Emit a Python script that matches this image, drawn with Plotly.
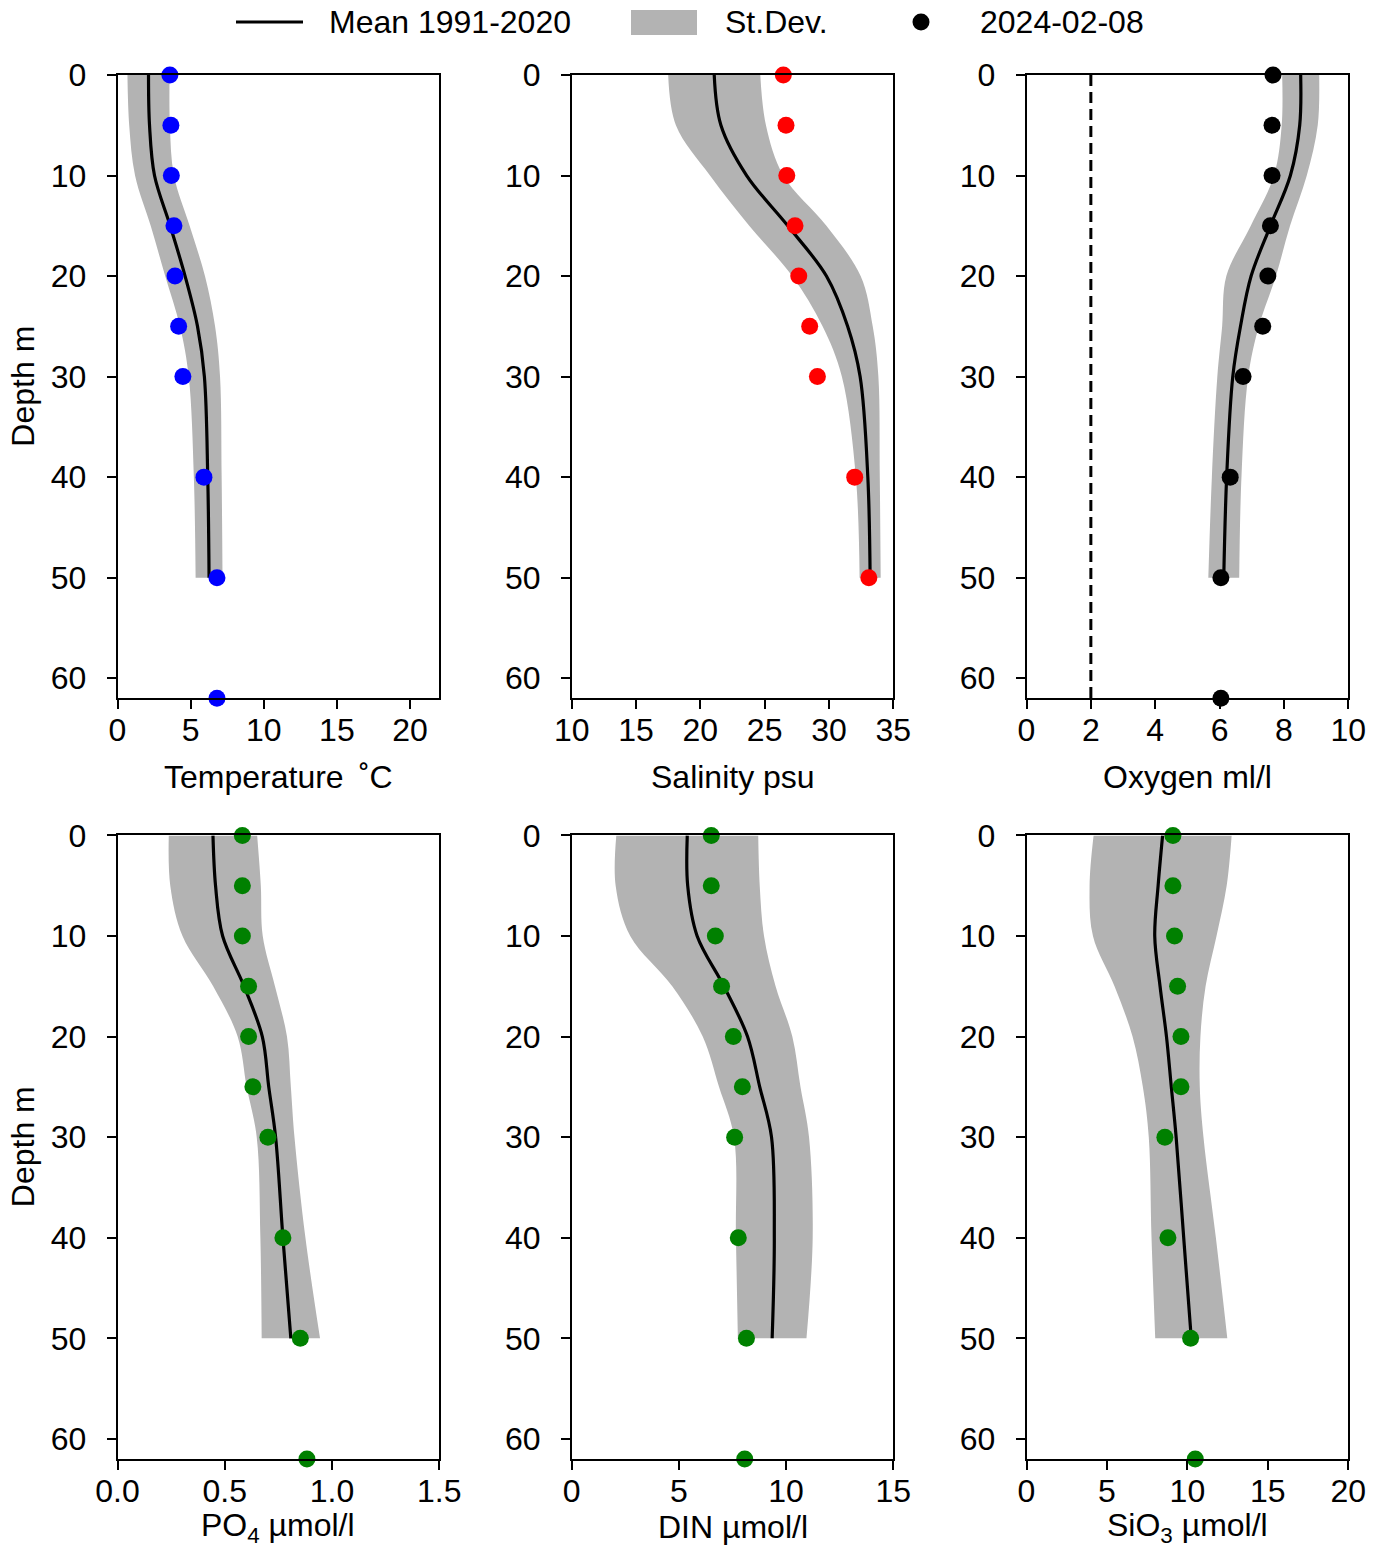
import plotly.graph_objects as go

# ---------------- data ----------------
depth_clim = [0, 5, 10, 15, 20, 25, 30, 40, 50]
depth_obs = [0, 5, 10, 15, 20, 25, 30, 40, 50, 62]

temp_mean = [2.12, 2.19, 2.53, 3.6, 4.62, 5.47, 5.94, 6.17, 6.26]
temp_sd = [1.44, 1.39, 1.33, 1.33, 1.36, 1.2, 1.07, 0.95, 0.92]
temp_obs = [3.58, 3.65, 3.68, 3.86, 3.93, 4.18, 4.47, 5.91, 6.80, 6.80]

sal_mean = [21.08, 21.6, 23.6, 26.8, 29.8, 31.45, 32.42, 33.02, 33.2]
sal_sd = [3.58, 3.5, 2.85, 3.0, 2.66, 1.95, 1.42, 0.93, 0.82]
sal_obs = [26.45, 26.66, 26.72, 27.36, 27.65, 28.5, 29.1, 32.0, 33.1]

oxy_mean = [8.52, 8.49, 8.2, 7.58, 6.98, 6.65, 6.41, 6.22, 6.13]
oxy_sd = [0.575, 0.56, 0.51, 0.61, 0.77, 0.57, 0.48, 0.46, 0.48]
oxy_obs = [7.66, 7.63, 7.63, 7.58, 7.50, 7.34, 6.73, 6.33, 6.04, 6.04]
oxy_limit = 2.0

po4_mean = [0.445, 0.457, 0.49, 0.59, 0.675, 0.705, 0.737, 0.771, 0.808]
po4_sd = [0.206, 0.211, 0.187, 0.144, 0.115, 0.103, 0.088, 0.105, 0.136]
po4_obs = [0.582, 0.582, 0.582, 0.611, 0.611, 0.631, 0.701, 0.771, 0.852, 0.883]

din_mean = [5.39, 5.41, 5.85, 7.1, 8.2, 8.77, 9.32, 9.45, 9.35]
din_sd = [3.31, 3.36, 3.12, 2.41, 2.09, 1.9, 1.75, 1.79, 1.6]
din_obs = [6.51, 6.51, 6.70, 6.99, 7.54, 7.96, 7.60, 7.77, 8.15, 8.07]

sio3_mean = [8.46, 8.18, 7.97, 8.3, 8.7, 9.0, 9.3, 9.77, 10.24]
sio3_sd = [4.29, 4.26, 3.84, 2.83, 2.11, 1.77, 1.7, 2.0, 2.24]
sio3_obs = [9.10, 9.10, 9.20, 9.39, 9.60, 9.60, 8.60, 8.79, 10.20, 10.49]

depth_ticks = [0, 10, 20, 30, 40, 50, 60]

legend_labels = ["Mean 1991-2020", "St.Dev.", "2024-02-08"]

panels = [
    dict(mean=temp_mean, sd=temp_sd, obs=temp_obs, color="#0000ff",
         title="Temperature \u2009\u02daC", xr=[0, 22], ticks=[0, 5, 10, 15, 20], fmt=""),
    dict(mean=sal_mean, sd=sal_sd, obs=sal_obs, color="#ff0000",
         title="Salinity psu", xr=[10, 35], ticks=[10, 15, 20, 25, 30, 35], fmt=""),
    dict(mean=oxy_mean, sd=oxy_sd, obs=oxy_obs, color="#000000",
         title="Oxygen ml/l", xr=[0, 10], ticks=[0, 2, 4, 6, 8, 10], fmt=""),
    dict(mean=po4_mean, sd=po4_sd, obs=po4_obs, color="#008000",
         title="PO<sub>4</sub> \u00b5mol/l", xr=[0, 1.5], ticks=[0, 0.5, 1.0, 1.5], fmt=".1f"),
    dict(mean=din_mean, sd=din_sd, obs=din_obs, color="#008000",
         title="DIN \u00b5mol/l", xr=[0, 15], ticks=[0, 5, 10, 15], fmt=""),
    dict(mean=sio3_mean, sd=sio3_sd, obs=sio3_obs, color="#008000",
         title="SiO<sub>3</sub> \u00b5mol/l", xr=[0, 20], ticks=[0, 5, 10, 15, 20], fmt=""),
]

# ---------------- layout geometry (pixels) ----------------
W, H = 1381, 1551
FONT = "Liberation Sans, Arial, Helvetica, sans-serif"
FS = 32
BAND = "#b3b3b3"
col_px = [(117.5, 439.3), (571.7, 893.3), (1026.5, 1348.3)]
row_px = [(75.0, 698.3), (835.4, 1459.0)]
xtitle_y = [777, 1527]
ytitle_x = 23

fig = go.Figure()
layout = dict(template="none", width=W, height=H, autosize=False,
              margin=dict(l=0, r=0, t=0, b=0, pad=0),
              paper_bgcolor="white", plot_bgcolor="white",
              showlegend=False, font=dict(family=FONT, size=FS, color="black"))
annotations = []
shapes = []

for i, p in enumerate(panels):
    r, c = divmod(i, 3)
    n = i + 1
    xa = "x" if n == 1 else f"x{n}"
    ya = "y" if n == 1 else f"y{n}"
    lo = [m - s for m, s in zip(p["mean"], p["sd"])]
    hi = [m + s for m, s in zip(p["mean"], p["sd"])]
    fig.add_trace(go.Scatter(x=lo, y=depth_clim, mode="lines", xaxis=xa, yaxis=ya,
                             line=dict(width=0, shape="spline", color=BAND),
                             hoverinfo="skip"))
    fig.add_trace(go.Scatter(x=hi, y=depth_clim, mode="lines", xaxis=xa, yaxis=ya,
                             line=dict(width=0, shape="spline", color=BAND),
                             fill="tonextx", fillcolor=BAND, hoverinfo="skip"))
    if i == 2:
        fig.add_trace(go.Scatter(x=[oxy_limit, oxy_limit], y=[0, 62], mode="lines",
                                 xaxis=xa, yaxis=ya,
                                 line=dict(width=3, color="black", dash="11px,6px")))
    fig.add_trace(go.Scatter(x=p["mean"], y=depth_clim, mode="lines", xaxis=xa, yaxis=ya,
                             line=dict(width=3.2, shape="spline", color="black")))
    d_obs = depth_obs[:len(p["obs"])]
    fig.add_trace(go.Scatter(x=p["obs"], y=d_obs, mode="markers", xaxis=xa, yaxis=ya,
                             cliponaxis=False,
                             marker=dict(size=17, color=p["color"], line=dict(width=0))))

    x0, x1 = col_px[c]
    y0, y1 = row_px[r]
    axcommon = dict(showline=True, mirror=True, linecolor="black", linewidth=1.5,
                    ticks="outside", ticklen=9, tickwidth=1.5, tickcolor="black",
                    showgrid=False, zeroline=False, automargin=False,
                    tickfont=dict(family=FONT, size=FS, color="black"))
    layout["xaxis" if n == 1 else f"xaxis{n}"] = dict(
        domain=[x0 / W, x1 / W], anchor=ya, range=p["xr"], tickvals=p["ticks"],
        tickformat=p["fmt"], ticklabelstandoff=-6, **axcommon)
    layout["yaxis" if n == 1 else f"yaxis{n}"] = dict(
        domain=[1 - y1 / H, 1 - y0 / H], anchor=xa, range=[62, 0], tickvals=depth_ticks,
        ticklabelstandoff=14, **axcommon)
    annotations.append(dict(text=p["title"], xref="paper", yref="paper",
                            x=(x0 + x1) / 2 / W, y=1 - xtitle_y[r] / H,
                            xanchor="center", yanchor="middle", showarrow=False,
                            font=dict(family=FONT, size=FS, color="black")))
    if c == 0:
        annotations.append(dict(text="Depth m", xref="paper", yref="paper",
                                x=ytitle_x / W, y=1 - (y0 + y1) / 2 / H, textangle=-90,
                                xanchor="center", yanchor="middle", showarrow=False,
                                font=dict(family=FONT, size=FS, color="black")))

# ---------------- legend (drawn at top) ----------------
LY = 22
shapes.append(dict(type="line", xref="paper", yref="paper",
                   x0=236 / W, x1=303 / W, y0=1 - LY / H, y1=1 - LY / H,
                   line=dict(color="black", width=3.2)))
shapes.append(dict(type="rect", xref="paper", yref="paper",
                   x0=631 / W, x1=697 / W, y0=1 - 35 / H, y1=1 - 10 / H,
                   fillcolor=BAND, line=dict(width=0)))
shapes.append(dict(type="circle", xref="paper", yref="paper",
                   x0=912.5 / W, x1=929.5 / W, y0=1 - (LY + 8.5) / H, y1=1 - (LY - 8.5) / H,
                   fillcolor="black", line=dict(width=0)))
for txt, lx in zip(legend_labels, [327, 723, 978]):
    annotations.append(dict(text=txt, xref="paper", yref="paper", x=lx / W, y=1 - LY / H,
                            xanchor="left", yanchor="middle", showarrow=False,
                            font=dict(family=FONT, size=FS, color="black")))

layout["annotations"] = annotations
layout["shapes"] = shapes
fig.update_layout(**layout)
fig.write_html("out.html", config={"displayModeBar": False},
               post_script="document.body.style.margin='0px';")
